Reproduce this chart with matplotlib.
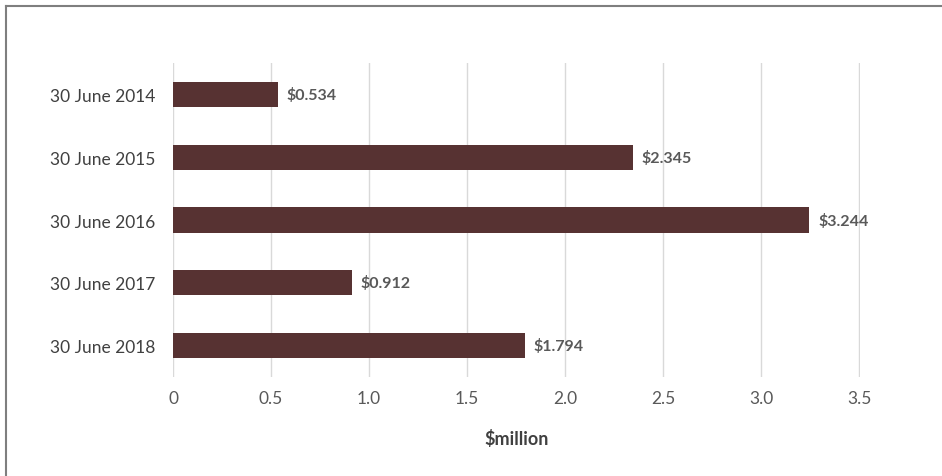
import matplotlib
matplotlib.use('agg')
import matplotlib.pyplot as plt
from matplotlib.lines import Line2D

categories = ['30 June 2014', '30 June 2015', '30 June 2016', '30 June 2017', '30 June 2018']
values = [0.534, 2.345, 3.244, 0.912, 1.794]
value_labels = ['$0.534', '$2.345', '$3.244', '$0.912', '$1.794']
x_ticks = [0, 0.5, 1.0, 1.5, 2.0, 2.5, 3.0, 3.5]
x_tick_labels = ['0', '0.5', '1.0', '1.5', '2.0', '2.5', '3.0', '3.5']

plt.rcParams['font.family'] = ['Lato', 'DejaVu Sans']

fig = plt.figure(figsize=(9.42, 4.77), dpi=100)
ax = fig.add_axes([0.1837, 0.2075, 0.7293, 0.6583])

y = list(range(len(categories)))
ax.barh(y, values, height=0.4, color='#573232', zorder=3)
for yi, v, lab in zip(y, values, value_labels):
    ax.text(v + 0.045, yi, lab, va='center', ha='left', fontsize=11.5,
            fontweight='bold', color='#595959')

ax.set_ylim(len(categories) - 0.5, -0.5)
ax.set_yticks(y)
ax.set_yticklabels(categories, fontsize=12.5, color='#404040')
ax.set_xlim(0, 3.503)
ax.set_xticks(x_ticks)
ax.set_xticklabels(x_tick_labels, fontsize=12.5, color='#595959')
ax.tick_params(length=0)
ax.tick_params(axis='y', pad=13)
ax.tick_params(axis='x', pad=9)
ax.grid(axis='x', color='#d9d9d9', linewidth=1, zorder=0)
for s in ax.spines.values():
    s.set_visible(False)
ax.set_xlabel('$million', fontsize=13, fontweight='bold', color='#404040', labelpad=17)

# outer border (top and left only)
fig.add_artist(Line2D([0.0068, 1.0], [0.986, 0.986], transform=fig.transFigure,
                      color='#7f7f7f', linewidth=1.5))
fig.add_artist(Line2D([0.0068, 0.0068], [0.0, 0.986], transform=fig.transFigure,
                      color='#7f7f7f', linewidth=1.5))

plt.savefig('out.png', dpi=100)
